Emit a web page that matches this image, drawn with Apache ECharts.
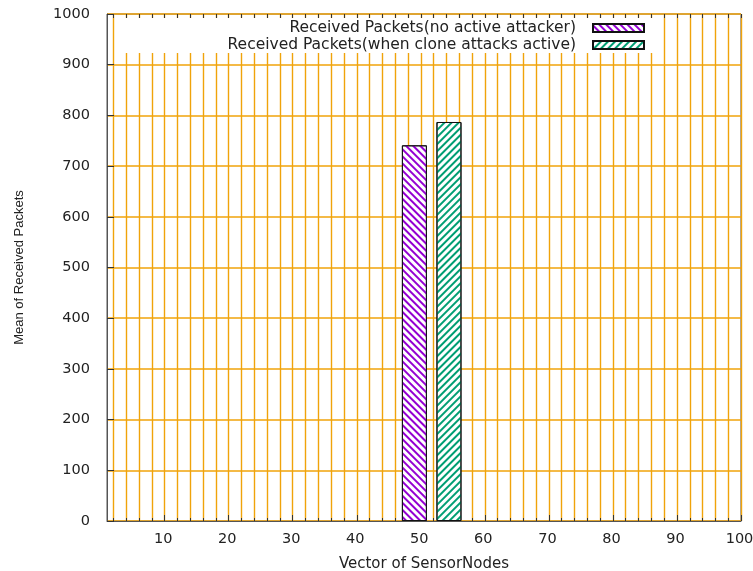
<!DOCTYPE html>
<html>
<head>
<meta charset="utf-8">
<script src="https://cdn.jsdelivr.net/npm/echarts@6/dist/echarts.min.js"></script>
<style>
html,body{margin:0;padding:0;background:#fff;}
#chart{width:753px;height:571px;}
</style>
</head>
<body>
<div id="chart"></div>
<script>
const seriesNames = ['Received Packets(no active attacker)', 'Received Packets(when clone attacks active)'];
const barX = [49, 54.4];
const barValues = [741, 787];
const seriesColors = ['#9400d3', '#009e73'];
const xMinorTicks = [2,4,6,8,10,12,14,16,18,20,22,24,26,28,30,32,34,36,38,40,42,44,46,48,50,52,54,56,58,60,62,64,66,68,70,72,74,76,78,80,82,84,86,88,90,92,94,96,98,100];
const xMajorTicks = [10,20,30,40,50,60,70,80,90,100];
const xTitle = 'Vector of SensorNodes';
const yTitle = 'Mean of Received Packets';

const FONT = 'DejaVu Sans';
const TXT = '#222';
const AX = '#555';
const GRIDC = '#f0a30a';

const chart = echarts.init(document.getElementById('chart'), null, {renderer: 'canvas'});

const rotations = [Math.PI / 4, -Math.PI / 4];

const option = {
  animation: false,
  backgroundColor: '#fff',
  grid: {left: 107, right: 12, top: 14, bottom: 50, show: true, borderColor: AX, borderWidth: 1, backgroundColor: 'transparent', containLabel: false, outerBoundsMode: 'none'},
  legend: {
    orient: 'vertical',
    align: 'right',
    right: 96,
    top: 18,
    padding: [2, 12, 0, 0],
    itemGap: 1,
    itemWidth: 51,
    itemHeight: 8,
    backgroundColor: '#fff',
    icon: 'rect',
    data: seriesNames,
    textStyle: {fontFamily: FONT, fontSize: 15.5, color: TXT, width: 459, align: 'right', lineHeight: 16, padding: [0, 12, 0, 0]}
  },
  xAxis: [
    {
      type: 'value', min: 1, max: 100, position: 'bottom',
      name: xTitle, nameLocation: 'middle', nameGap: 36,
      nameTextStyle: {fontFamily: FONT, fontSize: 15, color: TXT},
      axisLine: {show: true, lineStyle: {color: AX, width: 1}},
      axisTick: {show: true, inside: true, length: 3, customValues: xMinorTicks, lineStyle: {color: '#333'}},
      axisLabel: {show: true, customValues: xMajorTicks, fontFamily: FONT, fontSize: 14.5, color: TXT, margin: 11, padding: [0, 3, 0, 0]},
      splitLine: {show: true, lineStyle: {color: GRIDC, width: 1.4}}
    },
    {
      type: 'value', min: 1, max: 100, position: 'bottom', gridIndex: 0,
      axisLine: {show: false},
      axisTick: {show: true, inside: true, length: 6, customValues: xMajorTicks, lineStyle: {color: '#333'}},
      axisLabel: {show: false},
      splitLine: {show: false}
    },
    {
      type: 'value', min: 1, max: 100, position: 'top', gridIndex: 0, z: 6,
      axisLine: {show: false},
      axisTick: {show: true, inside: true, length: 4, customValues: xMinorTicks, lineStyle: {color: '#333'}},
      axisLabel: {show: false},
      splitLine: {show: false}
    }
  ],
  yAxis: [
    {
      type: 'value', min: 0, max: 1000, interval: 100,
      name: yTitle, nameLocation: 'middle', nameGap: 81, nameRotate: 90,
      nameTextStyle: {fontFamily: 'Liberation Sans', fontSize: 13, color: TXT},
      axisLine: {show: true, lineStyle: {color: AX, width: 1}},
      axisTick: {show: true, inside: true, length: 7, lineStyle: {color: '#333'}},
      axisLabel: {fontFamily: FONT, fontSize: 14.5, color: TXT, margin: 17, formatter: function (v) { return String(v); }},
      splitLine: {show: true, lineStyle: {color: GRIDC, width: 1.5, opacity: 1}}
    }
  ],
  series: seriesNames.map((name, i) => ({
    name: name,
    type: 'bar',
    xAxisIndex: 0,
    yAxisIndex: 0,
    barWidth: 25,
    barGap: '-100%',
    z: 3,
    itemStyle: {
      color: '#fff',
      borderColor: '#111',
      borderWidth: 1,
      decal: {
        symbol: 'rect', symbolSize: 1, color: seriesColors[i],
        dashArrayX: [1, 0], dashArrayY: [1.3, 2.1], rotation: rotations[i]
      }
    },
    data: [[barX[i], barValues[i]]]
  }))
};

chart.setOption(option);
</script>
</body>
</html>
